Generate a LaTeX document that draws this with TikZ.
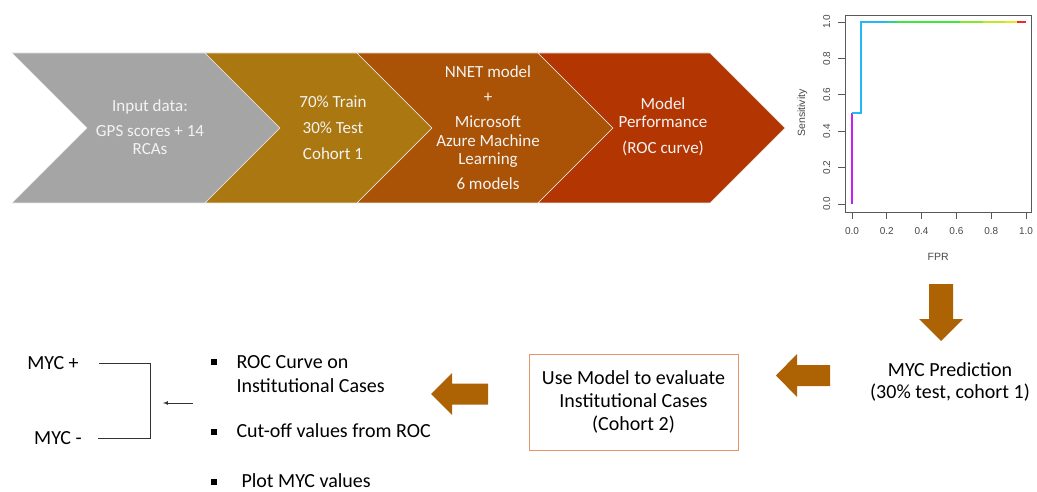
\documentclass[tikz,border=0pt]{standalone}
\usepackage{fontspec}
\setmainfont{Carlito}
\newfontfamily\plotfont{Liberation Sans}
\usetikzlibrary{positioning}

\definecolor{chevgray}{HTML}{A5A5A5}
\definecolor{chevgold}{HTML}{AB7710}
\definecolor{chevorange}{HTML}{AA5206}
\definecolor{chevred}{HTML}{B33502}
\definecolor{blockarrow}{HTML}{AD6204}
\definecolor{boxline}{HTML}{E39468}
\definecolor{textwhite}{HTML}{F3F3F3}
\definecolor{rocpurple}{HTML}{C81EF5}
\definecolor{roccyan}{HTML}{22B8F5}
\definecolor{rocgreen}{HTML}{3CE83C}
\definecolor{rocyellow}{HTML}{E8E81E}
\definecolor{rocred}{HTML}{F02828}

\begin{document}
\begin{tikzpicture}[x=1pt, y=-1pt,
    chev/.style = {draw=white!75!chevgray, line width=0.6pt},
    chevtxt/.style = {text=textwhite, align=center, font=\fontsize{17}{18.5}\selectfont},
    txt/.style = {align=center, font=\fontsize{20}{23}\selectfont},
    blockarr/.style = {fill=blockarrow},
    sq/.style = {fill=black, minimum size=5.5pt, inner sep=0pt},
    plotlbl/.style = {text=black!72, font=\plotfont\fontsize{10}{12}\selectfont}]
    \useasboundingbox (0,0) rectangle (1037,492);

    % chevrons of the pipeline
    \fill[chevgray, chev] (12,53) -- (205,53) -- (280,128) -- (205,203) -- (12,203) -- (87,128) -- cycle;
    \fill[chevgold, chev] (205,53) -- (357,53) -- (432,128) -- (357,203) -- (205,203) -- (280,128) -- cycle;
    \fill[chevorange, chev] (357,53) -- (538,53) -- (613,128) -- (538,203) -- (357,203) -- (432,128) -- cycle;
    \fill[chevred, chev] (538,53) -- (710,53) -- (785,128) -- (710,203) -- (538,203) -- (613,128) -- cycle;

    \node[chevtxt] (n_1) at (150,127) {Input data:\\[6.5pt]GPS scores + 14\\RCAs};
    \node[chevtxt] (n_2) at (333,128) {70\% Train\\[7.5pt]30\% Test\\[7.5pt]Cohort 1};
    \node[chevtxt] (n_3) at (488,128) {NNET model\\[6.5pt]+\\[6.5pt]Microsoft\\Azure Machine\\Learning\\[6.5pt]6 models};
    \node[chevtxt] (n_4) at (663,127) {Model\\Performance\\[7.5pt](ROC curve)};

    % ROC curve
    \begin{scope}[shift={(852,204)}, x=174pt, y=182pt]
        \draw[black!65, line width=0.9pt] (-0.04,-0.044) rectangle (1.03,1.038);
        \foreach \v in {0.0,0.2,0.4,0.6,0.8,1.0} {
            \draw[black!65, line width=0.8pt] (\v,-0.044) -- (\v,-0.083);
            \draw[black!65, line width=0.8pt] (-0.04,\v) -- (-0.08,\v);
            \node[plotlbl] at (\v,-0.148) {\v};
            \node[plotlbl, rotate=90] at (-0.145,\v) {\v};
        }
        \node[plotlbl, font=\plotfont\fontsize{10.5}{12}\selectfont, rotate=90] (ylab) at (-0.285,0.5) {Sensitivity};
        \node[plotlbl, font=\plotfont\fontsize{10.5}{12}\selectfont] (xlab) at (0.495,-0.29) {FPR};
        \draw[rocpurple, line width=2.2pt] (0,0) -- (0,0.5);
        \draw[roccyan, line width=2.2pt, line join=miter] (0,0.5) -- (0.05,0.5) -- (0.05,1) -- (0.2,1);
        \foreach \a/\b/\c in {0.2/0.26/roccyan!50!rocgreen, 0.26/0.62/rocgreen,
            0.62/0.75/rocgreen!60!rocyellow, 0.75/0.88/rocgreen!25!rocyellow,
            0.88/0.95/rocyellow, 0.95/1.0/rocred}
            \draw[\c, line width=2.2pt] (\a,1) -- (\b,1);
    \end{scope}

    % block arrows
    \fill[blockarr] (929,284) -- (953,284) -- (953,319) -- (963,319) -- (941,341) -- (919,319) -- (929,319) -- cycle;
    \fill[blockarr] (830,365) -- (830,386) -- (797,386) -- (797,397) -- (776,375.5) -- (797,354) -- (797,365) -- cycle;
    \fill[blockarr] (488,383.5) -- (488,404.5) -- (452,404.5) -- (452,415) -- (431,394) -- (452,373) -- (452,383.5) -- cycle;

    % prediction and evaluation
    \node[txt, font=\fontsize{20}{22.5}\selectfont] (pred) at (950,382) {MYC Prediction\\(30\% test, cohort 1)};
    \node[draw=boxline, line width=0.9pt, minimum width=209pt, minimum height=96pt, txt] (eval) at (633.5,402)
        {Use Model to evaluate\\Institutional Cases\hspace{28pt}\\(Cohort 2)\hspace{30pt}};

    % bullet list
    \node[sq] (s_1) at (214,362) {};
    \node[sq] (s_2) at (214,432) {};
    \node[sq] (s_3) at (214,482) {};
    \node[txt, align=left, anchor=west, font=\fontsize{20}{24}\selectfont] (b_1) at (233,374) {ROC Curve on\\Institutional Cases};
    \node[txt, anchor=west] (b_2) at (233,431) {Cut-off values from ROC};
    \node[txt, anchor=west] (b_3) at (238,480.5) {Plot MYC values};

    % MYC bracket
    \node[txt] (pos) at (53,363) {MYC +};
    \node[txt] (neg) at (58,438) {MYC -};
    \coordinate (c_1) at (99,363);
    \coordinate (c_2) at (98,438);
    \coordinate (c_3) at (193,403);
    \coordinate (c_4) at (163,403);
    \draw[black!80, line width=0.9pt] (c_1) -- (150,363) -- (150,438) -- (c_2);
    \draw[-latex, black!80, line width=0.7pt] (c_3) -- (c_4);
\end{tikzpicture}
\end{document}
